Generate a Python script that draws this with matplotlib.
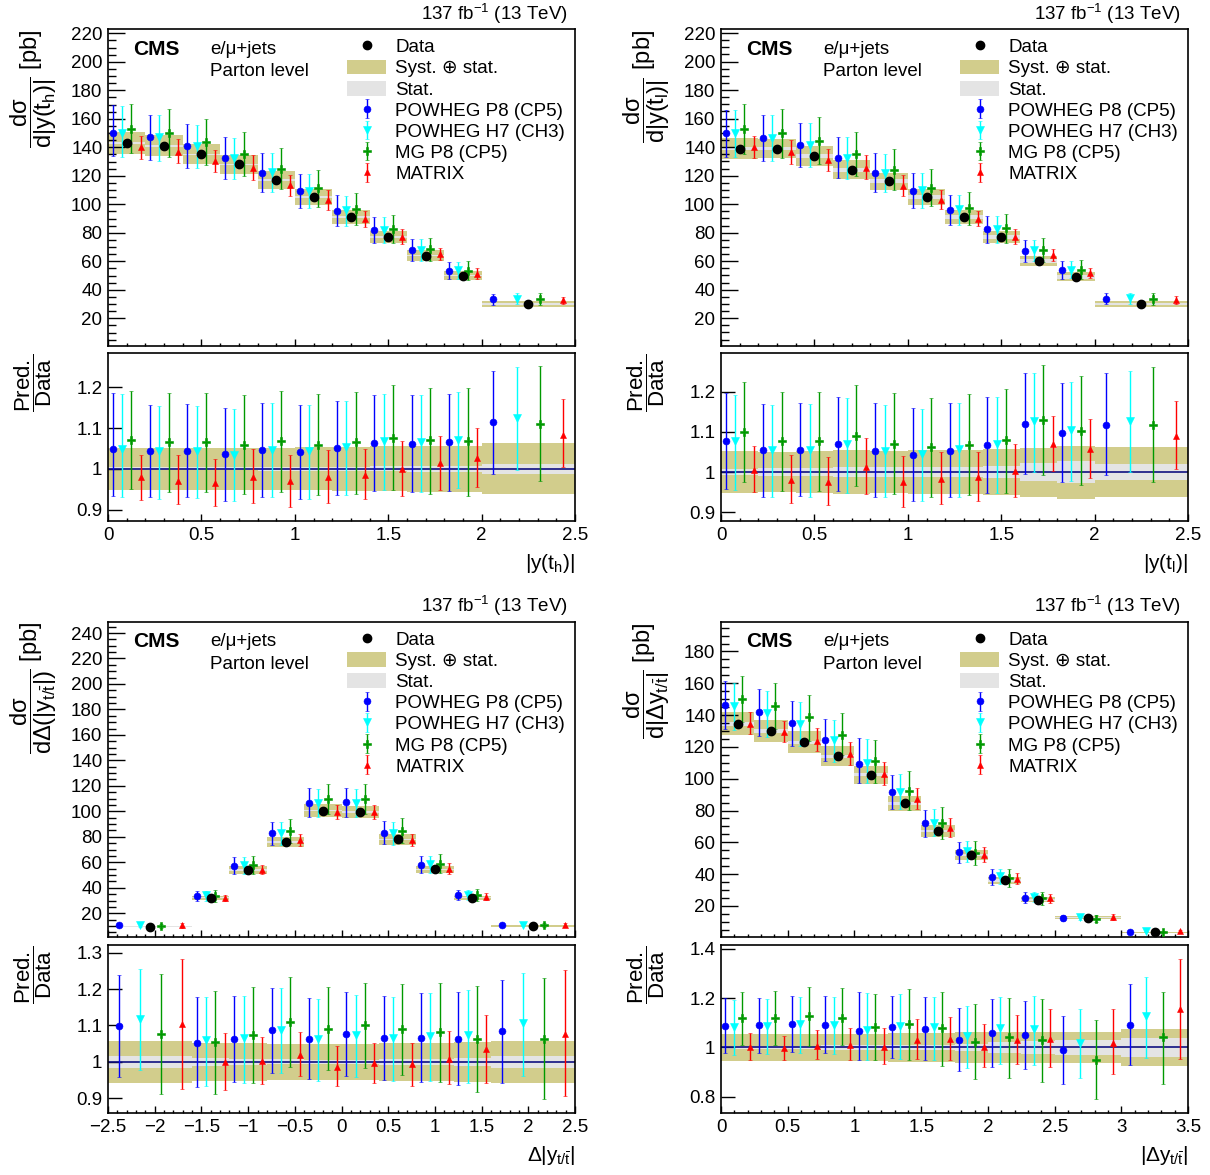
import numpy as np
import matplotlib
matplotlib.use("Agg")
import matplotlib.pyplot as plt
from matplotlib.patches import Patch
from matplotlib.lines import Line2D
from matplotlib.ticker import MultipleLocator, FuncFormatter

plt.rcParams['font.family'] = ['Liberation Sans', 'DejaVu Sans']
plt.rcParams['mathtext.fontset'] = 'custom'
plt.rcParams['mathtext.rm'] = 'Liberation Sans'
plt.rcParams['mathtext.it'] = 'Liberation Sans'
plt.rcParams['mathtext.bf'] = 'Liberation Sans:bold'

# ==========================================================
# |y(t_h)|
# ==========================================================
th_edges = [0, 0.2, 0.4, 0.6, 0.8, 1.0, 1.2, 1.4, 1.6, 1.8, 2.0, 2.5]
th_data = [143, 141, 135, 128, 117, 105, 91, 77, 64, 50, 30]
th_tot = [0.052, 0.052, 0.052, 0.052, 0.052, 0.053, 0.054, 0.055, 0.056, 0.057, 0.063]
th_stat = [0.004, 0.004, 0.004, 0.004, 0.005, 0.005, 0.005, 0.006, 0.007, 0.008, 0.012]

th_p8 = [1.048, 1.043, 1.043, 1.036, 1.045, 1.041, 1.051, 1.063, 1.061, 1.065, 1.114]
th_p8_hi = [1.186, 1.156, 1.159, 1.149, 1.161, 1.156, 1.167, 1.182, 1.180, 1.184, 1.241]
th_p8_lo = [0.934, 0.932, 0.932, 0.922, 0.930, 0.926, 0.935, 0.946, 0.944, 0.946, 0.988]
th_h7 = [1.048, 1.043, 1.043, 1.034, 1.047, 1.043, 1.053, 1.067, 1.066, 1.071, 1.125]
th_h7_hi = [1.184, 1.153, 1.155, 1.147, 1.161, 1.156, 1.166, 1.184, 1.182, 1.189, 1.250]
th_h7_lo = [0.932, 0.926, 0.928, 0.920, 0.930, 0.926, 0.935, 0.947, 0.944, 0.952, 0.998]
th_mg = [1.070, 1.065, 1.065, 1.059, 1.069, 1.059, 1.065, 1.075, 1.070, 1.068, 1.111]
th_mg_hi = [1.190, 1.186, 1.186, 1.180, 1.190, 1.184, 1.189, 1.205, 1.197, 1.198, 1.252]
th_mg_lo = [0.950, 0.944, 0.944, 0.938, 0.944, 0.936, 0.939, 0.947, 0.939, 0.934, 0.969]
th_mx = [0.980, 0.971, 0.965, 0.981, 0.969, 0.981, 0.985, 0.999, 1.013, 1.026, 1.084]
th_mx_hi = [1.035, 1.033, 1.025, 1.049, 1.033, 1.047, 1.048, 1.069, 1.080, 1.100, 1.172]
th_mx_lo = [0.924, 0.914, 0.909, 0.917, 0.907, 0.917, 0.925, 0.934, 0.948, 0.956, 1.004]

# ==========================================================
# |y(t_l)|
# ==========================================================
tl_edges = [0, 0.2, 0.4, 0.6, 0.8, 1.0, 1.2, 1.4, 1.6, 1.8, 2.0, 2.5]
tl_data = [139, 139, 134, 124, 116, 105, 91, 77, 60, 49, 30]
tl_tot = [0.052, 0.050, 0.052, 0.054, 0.053, 0.055, 0.055, 0.058, 0.061, 0.066, 0.062]
tl_stat = [0.007, 0.009, 0.011, 0.012, 0.012, 0.013, 0.013, 0.015, 0.023, 0.028, 0.019]

tl_p8 = [1.077, 1.054, 1.056, 1.070, 1.053, 1.043, 1.053, 1.068, 1.121, 1.098, 1.118]
tl_p8_hi = [1.196, 1.170, 1.172, 1.188, 1.171, 1.160, 1.171, 1.187, 1.246, 1.221, 1.246]
tl_p8_lo = [0.958, 0.939, 0.941, 0.952, 0.938, 0.929, 0.938, 0.949, 0.995, 0.974, 0.993]
tl_h7 = [1.078, 1.054, 1.056, 1.070, 1.053, 1.045, 1.058, 1.071, 1.127, 1.104, 1.128]
tl_h7_hi = [1.193, 1.167, 1.170, 1.185, 1.168, 1.158, 1.172, 1.187, 1.248, 1.225, 1.253]
tl_h7_lo = [0.956, 0.937, 0.939, 0.949, 0.937, 0.929, 0.939, 0.949, 0.999, 0.978, 0.999]
tl_mg = [1.100, 1.077, 1.077, 1.089, 1.071, 1.063, 1.068, 1.081, 1.129, 1.103, 1.118]
tl_mg_hi = [1.224, 1.200, 1.200, 1.216, 1.196, 1.185, 1.195, 1.208, 1.266, 1.239, 1.262]
tl_mg_lo = [0.975, 0.954, 0.954, 0.966, 0.946, 0.939, 0.942, 0.949, 0.992, 0.967, 0.975]
tl_mx = [1.006, 0.981, 0.975, 1.013, 0.974, 0.983, 0.988, 1.002, 1.070, 1.058, 1.091]
tl_mx_hi = [1.064, 1.043, 1.037, 1.085, 1.041, 1.050, 1.050, 1.070, 1.139, 1.133, 1.177]
tl_mx_lo = [0.950, 0.924, 0.918, 0.946, 0.914, 0.920, 0.927, 0.938, 1.002, 0.985, 1.008]

# ==========================================================
# Delta|y_t/tbar|
# ==========================================================
dy_edges = [-2.5, -1.6, -1.2, -0.8, -0.4, 0, 0.4, 0.8, 1.2, 1.6, 2.5]
dy_data = [9.5, 32, 54, 76, 100.5, 99.5, 78, 54.5, 32, 10]
dy_tot = [0.057, 0.053, 0.053, 0.049, 0.049, 0.050, 0.052, 0.053, 0.055, 0.057]
dy_stat = [0.016, 0.012, 0.009, 0.007, 0.006, 0.006, 0.008, 0.009, 0.012, 0.016]

dy_p8 = [1.098, 1.053, 1.063, 1.087, 1.064, 1.076, 1.066, 1.066, 1.064, 1.084]
dy_p8_hi = [1.238, 1.177, 1.181, 1.204, 1.176, 1.191, 1.182, 1.188, 1.193, 1.225]
dy_p8_lo = [0.959, 0.931, 0.945, 0.971, 0.952, 0.961, 0.951, 0.945, 0.938, 0.943]
dy_h7 = [1.117, 1.061, 1.067, 1.087, 1.062, 1.073, 1.066, 1.071, 1.073, 1.107]
dy_h7_hi = [1.254, 1.179, 1.182, 1.202, 1.172, 1.185, 1.179, 1.188, 1.197, 1.243]
dy_h7_lo = [0.977, 0.935, 0.943, 0.970, 0.948, 0.958, 0.948, 0.948, 0.943, 0.961]
dy_mg = [1.076, 1.054, 1.075, 1.109, 1.091, 1.101, 1.089, 1.083, 1.064, 1.064]
dy_mg_hi = [1.240, 1.194, 1.205, 1.232, 1.206, 1.217, 1.214, 1.216, 1.209, 1.229]
dy_mg_lo = [0.912, 0.911, 0.943, 0.986, 0.977, 0.984, 0.965, 0.945, 0.917, 0.897]
dy_mx = [1.103, 1.000, 1.002, 1.020, 0.987, 0.997, 0.993, 1.009, 1.035, 1.076]
dy_mx_hi = [1.283, 1.080, 1.069, 1.083, 1.044, 1.053, 1.053, 1.084, 1.130, 1.252]
dy_mx_lo = [0.925, 0.924, 0.940, 0.961, 0.935, 0.943, 0.933, 0.939, 0.942, 0.906]

# ==========================================================
# |Delta y_t/tbar|
# ==========================================================
ady_edges = [0, 0.25, 0.5, 0.75, 1.0, 1.25, 1.5, 1.75, 2.0, 2.25, 2.5, 3.0, 3.5]
ady_data = [134.5, 130, 123, 114, 102.5, 84.5, 67, 52, 36, 24, 12.7, 3.5]
ady_tot = [0.053, 0.053, 0.055, 0.055, 0.055, 0.058, 0.058, 0.061, 0.064, 0.064, 0.061, 0.074]
ady_stat = [0.008, 0.008, 0.008, 0.009, 0.009, 0.010, 0.011, 0.015, 0.022, 0.026, 0.029, 0.037]

ady_p8 = [1.086, 1.091, 1.097, 1.091, 1.068, 1.081, 1.074, 1.032, 1.057, 1.050, 0.989, 1.091]
ady_p8_hi = [1.199, 1.201, 1.209, 1.208, 1.223, 1.209, 1.203, 1.161, 1.195, 1.189, 1.128, 1.255]
ady_p8_lo = [0.976, 0.978, 0.982, 0.976, 0.949, 0.958, 0.949, 0.904, 0.922, 0.912, 0.851, 0.928]
ady_h7 = [1.084, 1.086, 1.093, 1.091, 1.070, 1.088, 1.081, 1.046, 1.077, 1.073, 1.019, 1.127]
ady_h7_hi = [1.192, 1.195, 1.205, 1.203, 1.222, 1.215, 1.205, 1.169, 1.205, 1.209, 1.154, 1.286]
ady_h7_lo = [0.969, 0.972, 0.978, 0.972, 0.949, 0.955, 0.951, 0.915, 0.935, 0.931, 0.878, 0.959]
ady_mg = [1.118, 1.120, 1.127, 1.118, 1.084, 1.095, 1.077, 1.023, 1.041, 1.030, 0.951, 1.041]
ady_mg_hi = [1.223, 1.230, 1.243, 1.242, 1.216, 1.238, 1.226, 1.174, 1.199, 1.195, 1.111, 1.226]
ady_mg_lo = [1.009, 1.009, 1.007, 1.009, 0.951, 0.951, 0.924, 0.874, 0.878, 0.861, 0.791, 0.851]
ady_mx = [1.000, 0.996, 1.007, 1.012, 1.003, 1.032, 1.034, 1.003, 1.032, 1.034, 1.020, 1.154]
ady_mx_hi = [1.057, 1.047, 1.070, 1.080, 1.080, 1.115, 1.124, 1.095, 1.131, 1.154, 1.155, 1.358]
ady_mx_lo = [0.951, 0.949, 0.953, 0.951, 0.935, 0.955, 0.949, 0.919, 0.935, 0.922, 0.892, 0.955]

# ==========================================================
# STYLE
# ==========================================================
OLIVE = "#d2cd8c"
GREY = "#e4e4e4"
NAVY = "#101080"
FS = 13.5

model_names = ["POWHEG P8 (CP5)", "POWHEG H7 (CH3)", "MG P8 (CP5)", "MATRIX"]
model_colors = ["#0000ff", "#00ffff", "#009900", "#ff0000"]
model_markers = ["o", "v", "P", "^"]
model_sizes = [5, 5.5, 5.2, 5]
offsets = [0.125, 0.375, 0.625, 0.875]


def fmt(v, p):
    return f"{v:g}".replace("-", "\u2212")


def draw(ax, axr, edges, data, tot, stat, models, ylim, rlim, rstep,
         ylabel, xlabel):
    edges = np.array(edges, dtype=float)
    data = np.array(data, dtype=float)
    tot = np.array(tot)
    stat = np.array(stat)
    left = edges[:-1]
    w = np.diff(edges)

    # bands
    ax.bar(left, 2 * tot * data, width=w, bottom=data * (1 - tot),
           align="edge", color=OLIVE, lw=0, zorder=1)
    ax.bar(left, 2 * stat * data, width=w, bottom=data * (1 - stat),
           align="edge", color=GREY, lw=0, zorder=1.5)
    axr.bar(left, 2 * tot, width=w, bottom=1 - tot,
            align="edge", color=OLIVE, lw=0, zorder=1)
    axr.bar(left, 2 * stat, width=w, bottom=1 - stat,
            align="edge", color=GREY, lw=0, zorder=1.5)
    axr.axhline(1.0, color=NAVY, lw=1.2, zorder=2)

    handles = []
    for k, (r, hi, lo) in enumerate(models):
        r = np.array(r)
        hi = np.array(hi)
        lo = np.array(lo)
        x = left + w * offsets[k]
        kw = dict(fmt=model_markers[k], color=model_colors[k],
                  ms=model_sizes[k], elinewidth=1.0, capsize=1.6,
                  capthick=1.0, mew=0.4, zorder=3)
        h = ax.errorbar(x, data * r, yerr=[data * (r - lo), data * (hi - r)],
                        label=model_names[k], **kw)
        axr.errorbar(x, r, yerr=[r - lo, hi - r], **kw)
        handles.append(h)

    ax.plot(left + w / 2, data, "o", color="black", ms=6, zorder=4)

    ax.set_xlim(edges[0], edges[-1])
    axr.set_xlim(edges[0], edges[-1])
    ax.set_ylim(*ylim)
    axr.set_ylim(*rlim)

    ax.yaxis.set_major_locator(MultipleLocator(20))
    ax.yaxis.set_minor_locator(MultipleLocator(5))
    for a in (ax, axr):
        a.xaxis.set_major_locator(MultipleLocator(0.5))
        a.xaxis.set_minor_locator(MultipleLocator(0.1))
        a.tick_params(which="both", direction="in", top=False, right=False,
                      labelsize=FS, pad=4)
        for s in a.spines.values():
            s.set_linewidth(1.2)
    axr.yaxis.set_major_locator(MultipleLocator(rstep))
    axr.yaxis.set_major_formatter(FuncFormatter(fmt))
    axr.xaxis.set_major_formatter(FuncFormatter(fmt))
    ax.tick_params(axis="x", labelbottom=False)
    ax.tick_params(axis="y", which="major", length=12, width=1)
    ax.tick_params(axis="y", which="minor", length=5.5, width=1)
    ax.tick_params(axis="x", which="major", length=5, width=1)
    ax.tick_params(axis="x", which="minor", length=2.5, width=1)
    axr.tick_params(axis="y", which="major", length=10, width=1)
    axr.tick_params(axis="x", which="major", length=5, width=1)
    axr.tick_params(axis="x", which="minor", length=2.5, width=1)

    ax.set_ylabel(ylabel, loc="top", fontsize=17)
    ax.yaxis.set_label_coords(-0.105, 1.0)
    axr.set_ylabel(r"$\dfrac{Pred.}{Data}$", loc="top", fontsize=16)
    axr.yaxis.set_label_coords(-0.115, 1.0)
    axr.set_xlabel(xlabel, loc="right", fontsize=15, labelpad=6)

    ax.text(0.985, 1.012, r"137 fb$^{-1}$ (13 TeV)", transform=ax.transAxes,
            ha="right", va="bottom", fontsize=FS)
    ax.text(0.054, 0.938, "CMS", transform=ax.transAxes, ha="left",
            va="center", fontsize=15, fontweight="bold")
    ax.text(0.218, 0.938, "e/\u03bc+jets", transform=ax.transAxes, ha="left",
            va="center", fontsize=FS)
    ax.text(0.218, 0.866, "Parton level", transform=ax.transAxes, ha="left",
            va="center", fontsize=FS)

    hdata = Line2D([], [], ls="none", marker="o", color="black", ms=6)
    hsys = Patch(facecolor=OLIVE, edgecolor="none")
    hstat = Patch(facecolor=GREY, edgecolor="none")
    ax.legend([hdata, hsys, hstat] + handles,
              ["Data", "Syst. \u2295 stat.", "Stat."] + model_names,
              loc="upper left", bbox_to_anchor=(0.512, 0.972),
              frameon=False, fontsize=FS, borderpad=0, borderaxespad=0,
              handlelength=2.08, handletextpad=0.48, labelspacing=0.17,
              handleheight=0.85)


fig = plt.figure(figsize=(12.1, 11.75), dpi=100)

xl, xr, wd = 0.0893, 0.5959, 0.386
ax1 = fig.add_axes([xl, 0.7055, wd, 0.2694])
ax1r = fig.add_axes([xl, 0.5566, wd, 0.143])
ax2 = fig.add_axes([xr, 0.7055, wd, 0.2694])
ax2r = fig.add_axes([xr, 0.5566, wd, 0.143])
ax3 = fig.add_axes([xl, 0.2026, wd, 0.268])
ax3r = fig.add_axes([xl, 0.0528, wd, 0.143])
ax4 = fig.add_axes([xr, 0.2026, wd, 0.268])
ax4r = fig.add_axes([xr, 0.0528, wd, 0.143])

draw(ax1, ax1r, th_edges, th_data, th_tot, th_stat,
     [(th_p8, th_p8_hi, th_p8_lo), (th_h7, th_h7_hi, th_h7_lo),
      (th_mg, th_mg_hi, th_mg_lo), (th_mx, th_mx_hi, th_mx_lo)],
     (0.5, 222.7), (0.872, 1.284), 0.1,
     r"$\dfrac{d\sigma}{d|y(t_{h})|}$ [pb]", r"$|y(t_{h})|$")

draw(ax2, ax2r, tl_edges, tl_data, tl_tot, tl_stat,
     [(tl_p8, tl_p8_hi, tl_p8_lo), (tl_h7, tl_h7_hi, tl_h7_lo),
      (tl_mg, tl_mg_hi, tl_mg_lo), (tl_mx, tl_mx_hi, tl_mx_lo)],
     (0.5, 222.5), (0.878, 1.297), 0.1,
     r"$\dfrac{d\sigma}{d|y(t_{l})|}$ [pb]", r"$|y(t_{l})|$")

draw(ax3, ax3r, dy_edges, dy_data, dy_tot, dy_stat,
     [(dy_p8, dy_p8_hi, dy_p8_lo), (dy_h7, dy_h7_hi, dy_h7_lo),
      (dy_mg, dy_mg_hi, dy_mg_lo), (dy_mx, dy_mx_hi, dy_mx_lo)],
     (1.4, 248.6), (0.86, 1.321), 0.1,
     r"$\dfrac{d\sigma}{d\Delta(|y_{t/\bar{t}}|)}$ [pb]",
     r"$\Delta|y_{t/\bar{t}}|$")

draw(ax4, ax4r, ady_edges, ady_data, ady_tot, ady_stat,
     [(ady_p8, ady_p8_hi, ady_p8_lo), (ady_h7, ady_h7_hi, ady_h7_lo),
      (ady_mg, ady_mg_hi, ady_mg_lo), (ady_mx, ady_mx_hi, ady_mx_lo)],
     (0.5, 198.5), (0.735, 1.415), 0.2,
     r"$\dfrac{d\sigma}{d|\Delta y_{t/\bar{t}}|}$ [pb]",
     r"$|\Delta y_{t/\bar{t}}|$")

fig.savefig("out.png", dpi=100)
